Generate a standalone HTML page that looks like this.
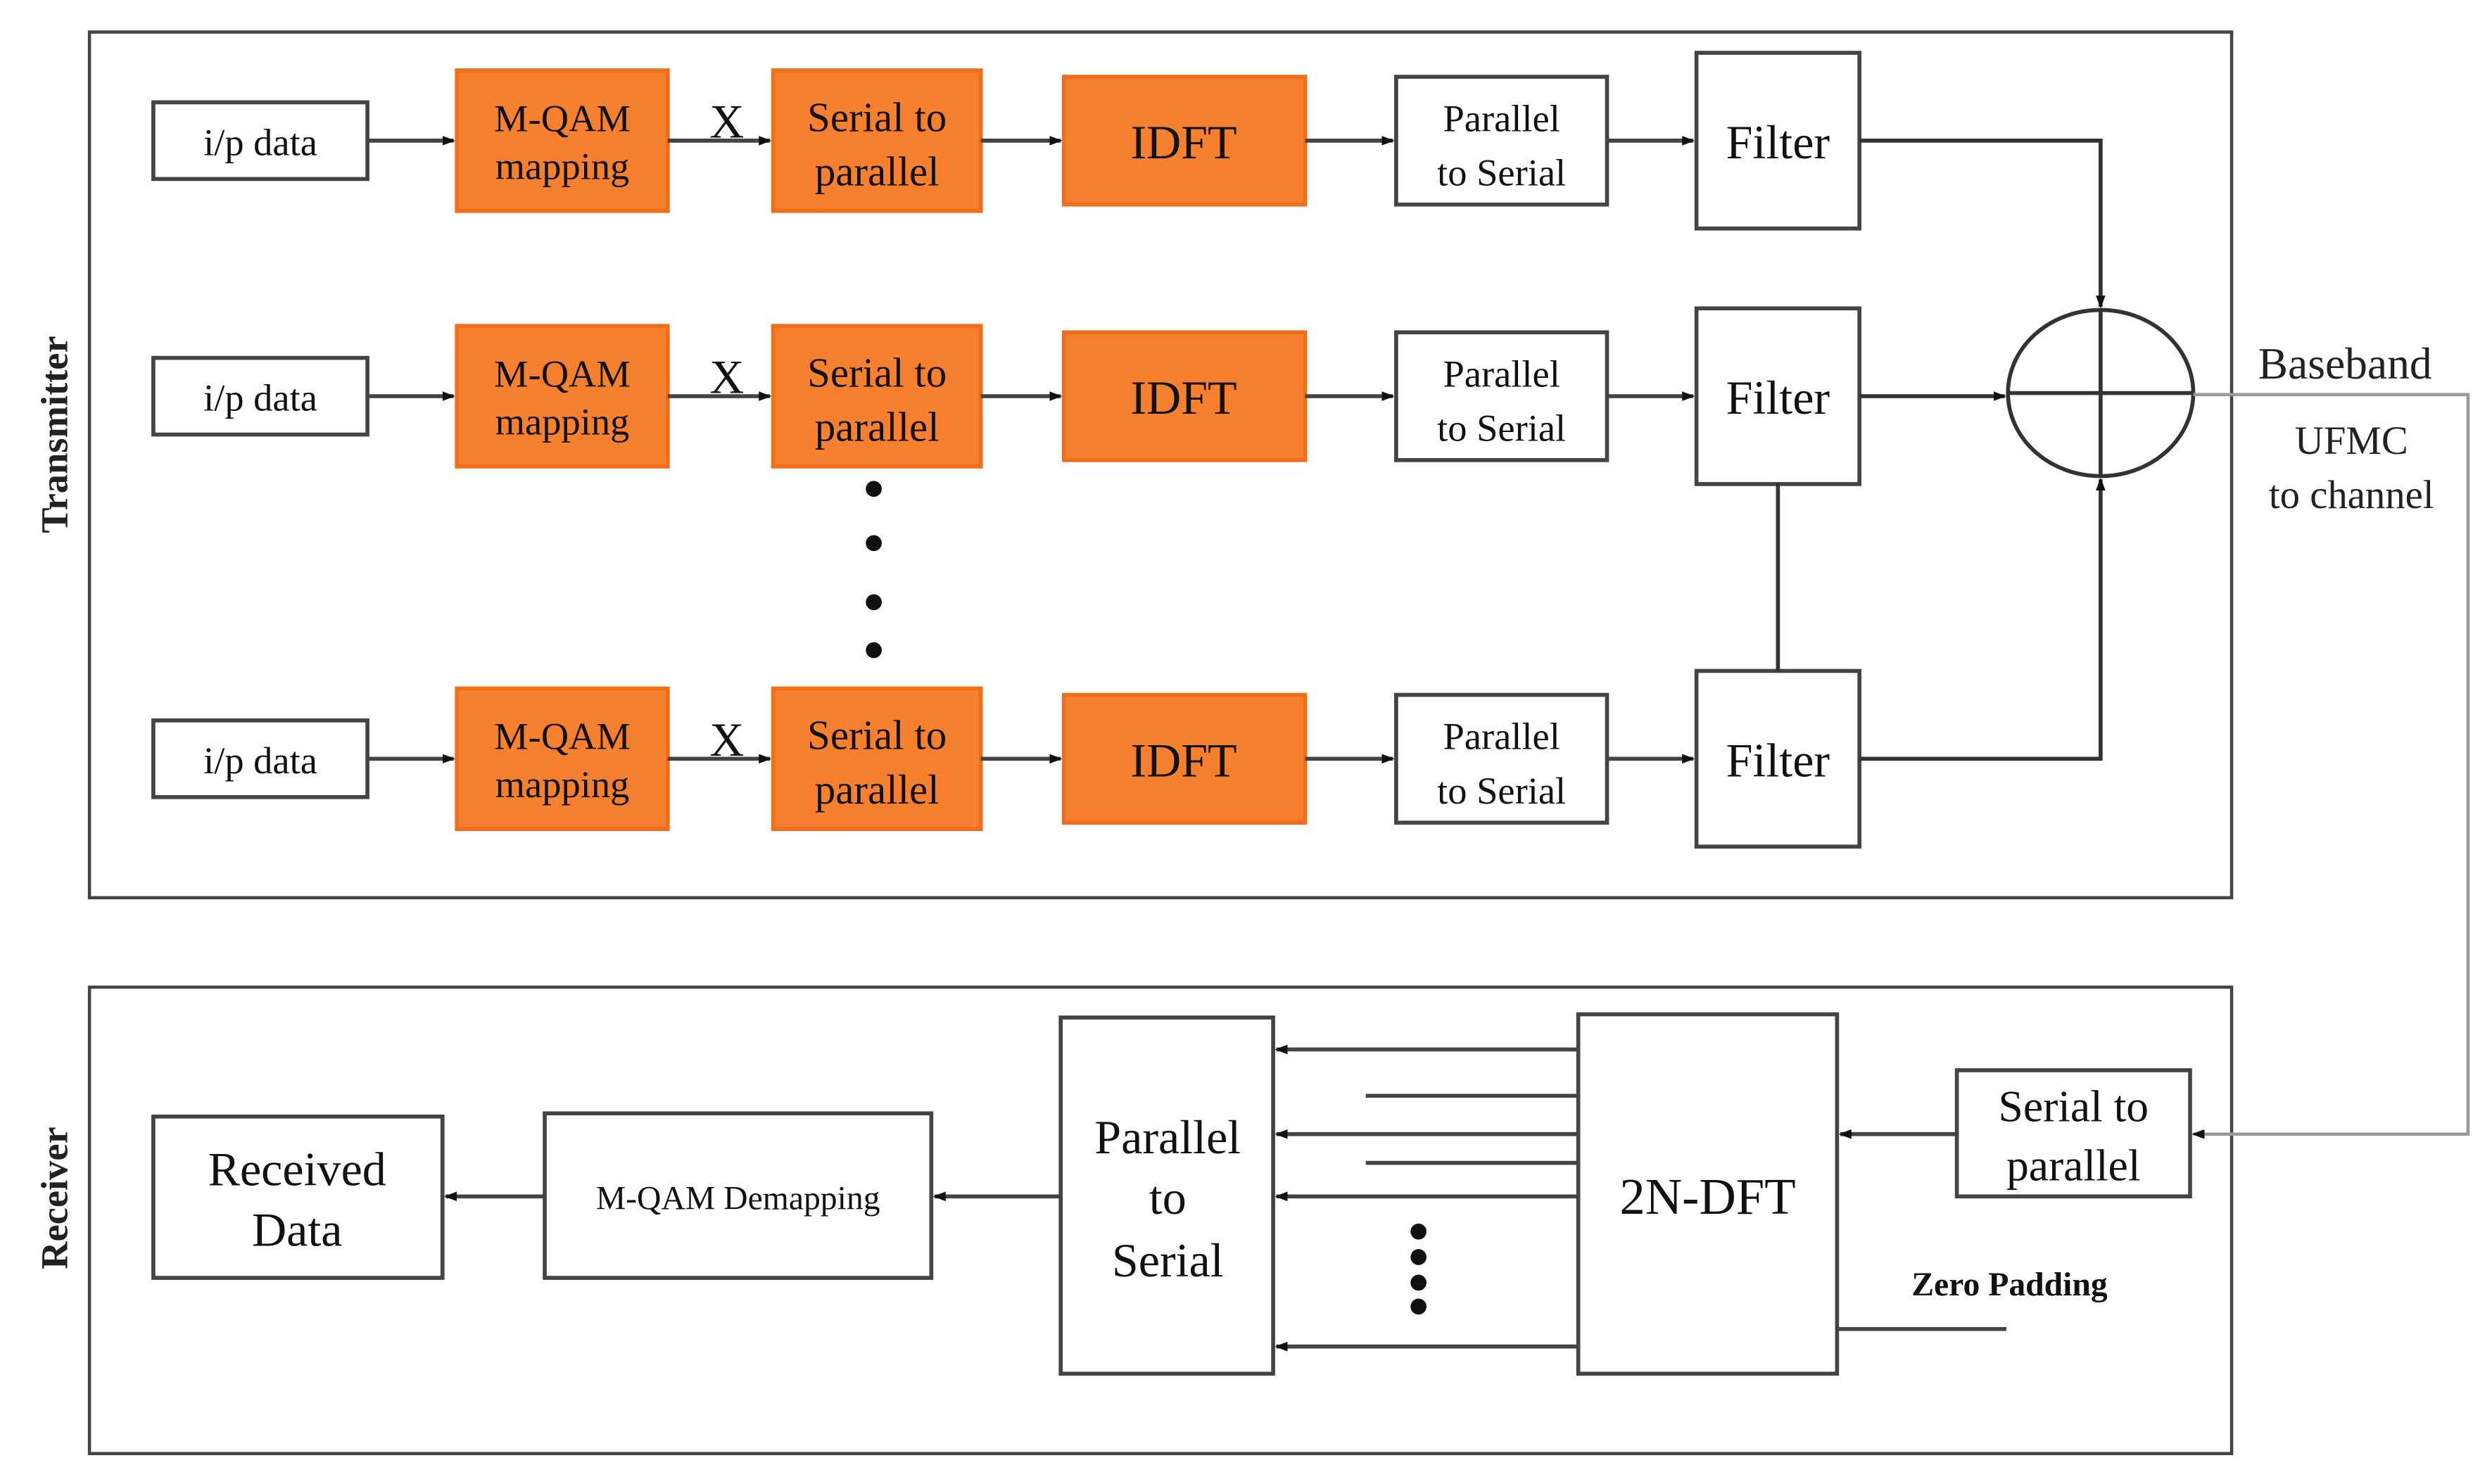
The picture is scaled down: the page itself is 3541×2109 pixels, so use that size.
<!DOCTYPE html>
<html><head><style>html,body{margin:0;padding:0;background:#fff}svg{display:block}svg text{font-family:"Liberation Serif","Times New Roman","DejaVu Serif",serif}</style></head>
<body>
<svg width="3541" height="2109" viewBox="0 0 1560 929" xmlns="http://www.w3.org/2000/svg">
<defs><marker id="a" markerWidth="8" markerHeight="8" refX="7" refY="4" orient="auto" markerUnits="userSpaceOnUse"><path d="M0,1 L8,4 L0,7 z" fill="#111"/></marker></defs>
<rect width="1560" height="929" fill="#fff"/>
<g fill="none" stroke="#444" stroke-width="2">
<rect x="56" y="20" width="1341" height="542"/>
<rect x="56" y="618" width="1341" height="292"/>
</g>
<text transform="translate(42,272) rotate(-90)" text-anchor="middle" font-size="24" font-weight="bold" fill="#222">Transmitter</text>
<text transform="translate(42,750) rotate(-90)" text-anchor="middle" font-size="24" font-weight="bold" fill="#222">Receiver</text>

<g id="r1" font-size="24" fill="#111" text-anchor="middle">
<g stroke="#444" stroke-width="2.5">
<rect x="96" y="64" width="134" height="48" fill="#fff"/>
<rect x="286" y="44" width="132" height="88" fill="#f7802e" stroke="#f26d1a"/>
<rect x="484" y="44" width="130" height="88" fill="#f7802e" stroke="#f26d1a"/>
<rect x="666" y="48" width="151" height="80" fill="#f7802e" stroke="#f26d1a"/>
<rect x="874" y="48" width="132" height="80" fill="#fff"/>
<rect x="1062" y="33" width="102" height="110" fill="#fff"/>
<line x1="230" y1="88" x2="284" y2="88" marker-end="url(#a)"/>
<line x1="418" y1="88" x2="482" y2="88" marker-end="url(#a)"/>
<line x1="614" y1="88" x2="664" y2="88" marker-end="url(#a)"/>
<line x1="817" y1="88" x2="872" y2="88" marker-end="url(#a)"/>
<line x1="1006" y1="88" x2="1060" y2="88" marker-end="url(#a)"/>
</g>
<text x="163" y="97">i/p data</text>
<text x="352" y="82">M-QAM</text><text x="352" y="112">mapping</text>
<text x="455" y="86" font-size="30">X</text>
<text x="549" y="82" font-size="26">Serial to</text><text x="549" y="116" font-size="26">parallel</text>
<text x="741" y="99" font-size="30">IDFT</text>
<text x="940" y="82">Parallel</text><text x="940" y="116">to Serial</text>
<text x="1113" y="99" font-size="30">Filter</text>
</g>
<use href="#r1" y="160"/>
<use href="#r1" y="387"/>

<g fill="#111"><circle cx="547" cy="306" r="5"/><circle cx="547" cy="340" r="5"/><circle cx="547" cy="377" r="5"/><circle cx="547" cy="407" r="5"/></g>

<g fill="none" stroke="#333" stroke-width="2.5">
<ellipse cx="1315" cy="246" rx="58" ry="52"/>
<line x1="1257" y1="246" x2="1373" y2="246"/>
<line x1="1315" y1="194" x2="1315" y2="298"/>
<polyline points="1164,88 1315,88 1315,192" marker-end="url(#a)"/>
<line x1="1164" y1="248" x2="1255" y2="248" marker-end="url(#a)"/>
<polyline points="1164,475 1315,475 1315,300" marker-end="url(#a)"/>
<line x1="1113" y1="302" x2="1113" y2="420"/>
</g>
<polyline points="1373,247 1545,247 1545,710 1373,710" fill="none" stroke="#999" stroke-width="2" marker-end="url(#a)"/>
<g font-size="28" fill="#222" text-anchor="middle">
<text x="1468" y="237">Baseband</text>
<text x="1472" y="284" font-size="25">UFMC</text>
<text x="1472" y="318" font-size="25">to channel</text>
</g>

<g stroke="#444" stroke-width="2.5" fill="#fff">
<rect x="96" y="699" width="181" height="101"/>
<rect x="341" y="697" width="242" height="103"/>
<rect x="664" y="637" width="133" height="223"/>
<rect x="988" y="635" width="162" height="225"/>
<rect x="1225" y="670" width="146" height="79"/>
</g>
<g stroke="#444" stroke-width="2.5" fill="none">
<line x1="1225" y1="710" x2="1152" y2="710" marker-end="url(#a)"/>
<line x1="988" y1="657" x2="799" y2="657" marker-end="url(#a)"/>
<line x1="988" y1="686" x2="855" y2="686"/>
<line x1="988" y1="710" x2="799" y2="710" marker-end="url(#a)"/>
<line x1="988" y1="728" x2="855" y2="728"/>
<line x1="988" y1="749" x2="799" y2="749" marker-end="url(#a)"/>
<line x1="988" y1="843" x2="799" y2="843" marker-end="url(#a)"/>
<line x1="664" y1="749" x2="585" y2="749" marker-end="url(#a)"/>
<line x1="341" y1="749" x2="279" y2="749" marker-end="url(#a)"/>
<line x1="1150" y1="832" x2="1256" y2="832"/>
</g>
<g fill="#111"><circle cx="888" cy="771" r="5"/><circle cx="888" cy="787" r="5"/><circle cx="888" cy="803" r="5"/><circle cx="888" cy="818" r="5"/></g>
<g fill="#111" text-anchor="middle">
<text x="186" y="742" font-size="30">Received</text><text x="186" y="780" font-size="30">Data</text>
<text x="462" y="757" font-size="21">M-QAM Demapping</text>
<text x="731" y="722" font-size="30">Parallel</text><text x="731" y="760" font-size="30">to</text><text x="731" y="799" font-size="30">Serial</text>
<text x="1069" y="760" font-size="32">2N-DFT</text>
<text x="1298" y="702" font-size="28">Serial to</text><text x="1298" y="739" font-size="28">parallel</text>
<text x="1258" y="811" font-size="21" font-weight="bold">Zero Padding</text>
</g>
</svg>
</body></html>
